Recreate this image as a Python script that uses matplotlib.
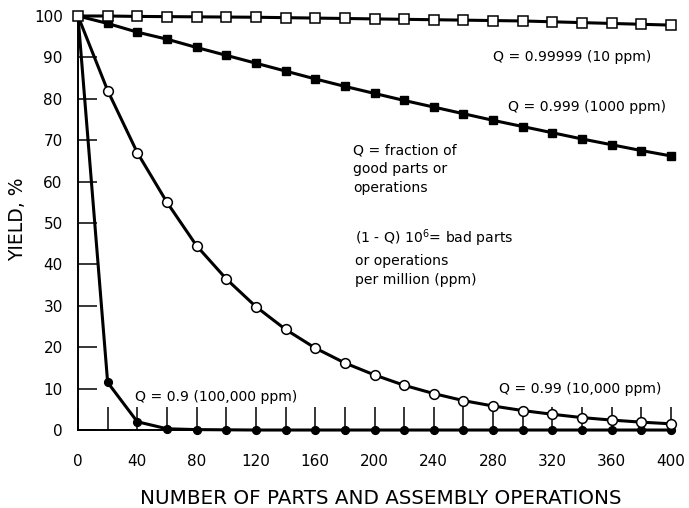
import matplotlib
matplotlib.use("Agg")
import matplotlib.pyplot as plt

plt.rcParams['font.family'] = ['DejaVu Sans']
plt.rcParams['mathtext.fontset'] = 'dejavusans'

# Number of parts / operations
n_parts = list(range(0, 401, 20))

# Yield (%) for each quality level
yield_q99999 = [100, 100, 99.9, 99.85, 99.8, 99.75, 99.7, 99.6, 99.5, 99.4, 99.3,
                99.2, 99.1, 99.0, 98.9, 98.8, 98.6, 98.4, 98.2, 98.0, 97.8]
yield_q999 = [100, 98.2, 96.1, 94.4, 92.4, 90.5, 88.6, 86.7, 84.8, 83.0, 81.3,
              79.6, 78.0, 76.4, 74.8, 73.3, 71.8, 70.3, 68.9, 67.5, 66.2]
yield_q99 = [100, 82, 67, 55, 44.5, 36.5, 29.8, 24.3, 19.8, 16.2, 13.3,
             10.8, 8.8, 7.1, 5.8, 4.7, 3.8, 3.0, 2.4, 1.9, 1.5]
yield_q9 = [100, 11.5, 2.0, 0.3, 0.1, 0.05, 0, 0, 0, 0, 0,
            0, 0, 0, 0, 0, 0, 0, 0, 0, 0]

x_ticks = list(range(0, 401, 40))
x_minor = list(range(20, 401, 40))
y_ticks = list(range(0, 101, 10))

fig = plt.figure(figsize=(6.89, 5.08), dpi=100)
ax = fig.add_axes([0.1132, 0.1535, 0.8607, 0.815])

lw = 2.2
ax.plot(n_parts, yield_q9, color='black', lw=lw, marker='o', ms=5.6,
        mfc='black', mec='black', markevery=slice(1, None), clip_on=False, zorder=3)
ax.plot(n_parts, yield_q99, color='black', lw=lw, marker='o', ms=7.0,
        mfc='white', mec='black', mew=1.1, markevery=slice(1, None), clip_on=False, zorder=4)
ax.plot(n_parts, yield_q999, color='black', lw=lw, marker='s', ms=6.4,
        mfc='black', mec='black', markevery=slice(1, None), clip_on=False, zorder=3)
ax.plot(n_parts, yield_q99999, color='black', lw=lw, marker='s', ms=6.6,
        mfc='white', mec='black', mew=1.1, clip_on=False, zorder=5)

ax.set_xlim(0, 400)
ax.set_ylim(0, 100)
for s in ['top', 'right']:
    ax.spines[s].set_visible(False)
for s in ['left', 'bottom']:
    ax.spines[s].set_linewidth(1.4)

ax.set_xticks(x_ticks)
ax.set_xticks(x_minor, minor=True)
ax.set_yticks(y_ticks)
ax.tick_params(axis='x', which='both', direction='in', length=16.5, width=1.1,
               pad=17, labelsize=11)
ax.tick_params(axis='y', which='major', direction='in', length=14, width=1.1,
               pad=11, labelsize=11)

fs = 10.1
ls = 1.45
ax.text(280, 90.1, 'Q = 0.99999 (10 ppm)', fontsize=fs, va='center', ha='left')
ax.text(290, 78.0, 'Q = 0.999 (1000 ppm)', fontsize=fs, va='center', ha='left')
ax.text(185.5, 69.2, 'Q = fraction of\ngood parts or\noperations', fontsize=fs,
        va='top', ha='left', linespacing=ls)
ax.text(187, 49.0, '(1 - Q) 10$^{6}$= bad parts\nor operations\nper million (ppm)',
        fontsize=fs, va='top', ha='left', linespacing=ls)
ax.text(284, 9.9, 'Q = 0.99 (10,000 ppm)', fontsize=fs, va='center', ha='left')
ax.text(38.4, 8.0, 'Q = 0.9 (100,000 ppm)', fontsize=fs, va='center', ha='left')

fig.text(17.5 / 689, 1 - 219 / 508, 'YIELD, %', rotation=90, fontsize=13.5,
         ha='center', va='center')
fig.text(381 / 689, 1 - 499 / 508, 'NUMBER OF PARTS AND ASSEMBLY OPERATIONS',
         fontsize=14.3, ha='center', va='center')

fig.savefig('out.png', dpi=100)
